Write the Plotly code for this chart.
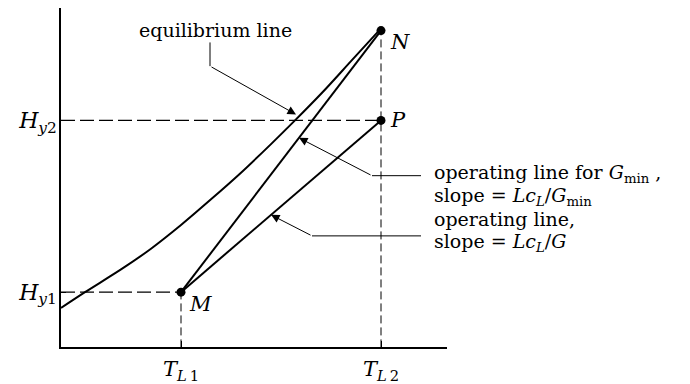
import numpy as np
import plotly.graph_objects as go

# Key temperatures and enthalpies (arbitrary units)
T_L1, T_L2 = 0.6, 1.6
H_y1, H_y2, H_N = 0.56, 2.30, 3.21

# Equilibrium curve H*(T)
eq_T = [0.00, 0.12, 0.30, 0.45, 0.60, 0.75, 0.90, 1.05, 1.17, 1.31, 1.45, 1.59]
eq_H = [0.40, 0.56, 0.79, 1.00, 1.24, 1.50, 1.77, 2.06, 2.30, 2.59, 2.90, 3.21]

# Operating lines: M -> N (minimum gas rate) and M -> P (actual)
gmin_T, gmin_H = [T_L1, T_L2], [H_y1, H_N]
op_T, op_H = [T_L1, T_L2], [H_y1, H_y2]

# Axis tick labels
x_ticktext = ["<i>T</i><sub><i>L</i>\u20091</sub>", "<i>T</i><sub><i>L</i>\u20092</sub>"]
y_ticktext = ["<i>H</i><sub><i>y</i>1</sub>", "<i>H</i><sub><i>y</i>2</sub>"]

FONT = "DejaVu Serif"
W, H = 690, 384
x_px0, x_px1 = 61, 447     # plot area in pixels
y_px0, y_px1 = 352, 8
xr = [0, 1.93]
yr = [0, 3.44]

fig = go.Figure()

dash_h = dict(color="black", width=1.3, dash="14px,5px")
dash_v = dict(color="black", width=1.0, dash="8px,4px")

# guide lines
fig.add_trace(go.Scatter(x=[0, T_L2], y=[H_y2, H_y2], mode="lines", line=dash_h))
fig.add_trace(go.Scatter(x=[0, T_L1], y=[H_y1, H_y1], mode="lines", line=dash_h))
fig.add_trace(go.Scatter(x=[T_L1, T_L1], y=[0, H_y1], mode="lines", line=dash_v))
fig.add_trace(go.Scatter(x=[T_L2, T_L2], y=[0, H_N], mode="lines", line=dash_v))

# curves
fig.add_trace(go.Scatter(x=eq_T, y=eq_H, mode="lines",
                         line=dict(color="black", width=2, shape="spline", smoothing=0.8)))
fig.add_trace(go.Scatter(x=gmin_T, y=gmin_H, mode="lines", line=dict(color="black", width=2)))
fig.add_trace(go.Scatter(x=op_T, y=op_H, mode="lines", line=dict(color="black", width=2)))

# end points M, N, P
fig.add_trace(go.Scatter(x=[T_L1, T_L2, T_L2], y=[H_y1, H_N, H_y2], mode="markers",
                         marker=dict(color="black", size=9)))

lead = dict(color="black", width=1)
annots = []


def arrow(tip_x, tip_y, from_x, from_y):
    annots.append(dict(x=tip_x, y=tip_y, ax=from_x, ay=from_y, xref="x", yref="y",
                       axref="x", ayref="y", text="", showarrow=True,
                       arrowhead=2, arrowsize=1.7, arrowwidth=1, arrowcolor="black"))


# leader: equilibrium line
eq_tip_T = 1.175
eq_tip_H = float(np.interp(eq_tip_T, eq_T, eq_H)) + 0.05
fig.add_trace(go.Scatter(x=[0.745, 0.745], y=[3.09, 2.85], mode="lines", line=lead,
                         cliponaxis=False))
arrow(eq_tip_T, eq_tip_H, 0.745, 2.85)

# leader: operating line for Gmin
g_tip_T = 1.19
g_tip_H = float(np.interp(g_tip_T, gmin_T, gmin_H))
fig.add_trace(go.Scatter(x=[1.555, 1.80], y=[1.74, 1.74], mode="lines", line=lead,
                         cliponaxis=False))
arrow(g_tip_T, g_tip_H, 1.555, 1.74)

# leader: operating line
o_tip_T = 1.05
o_tip_H = float(np.interp(o_tip_T, op_T, op_H))
fig.add_trace(go.Scatter(x=[1.255, 1.80], y=[1.13, 1.13], mode="lines", line=lead,
                         cliponaxis=False))
arrow(o_tip_T, o_tip_H, 1.255, 1.13)

txt = dict(family=FONT, size=19, color="black")
lab = dict(family=FONT, size=21, color="black")
ylab = dict(family=FONT, size=22, color="black")


def note(x, y, text, font=txt, **kw):
    d = dict(x=x, y=y, xref="x", yref="y", text=text, showarrow=False, font=font,
             xanchor="left", yanchor="middle")
    d.update(kw)
    annots.append(d)


note(0.38, 3.22, "equilibrium line")
note(1.855, 1.76, "operating line for <i>G</i><sub>min</sub> ,")
note(1.855, 1.53, "slope = <i>Lc</i><sub><i>L</i></sub>/<i>G</i><sub>min</sub>")
note(1.855, 1.30, "operating line,")
note(1.855, 1.06, "slope = <i>Lc</i><sub><i>L</i></sub>/<i>G</i>")

note(T_L1, H_y1, "<i>M</i>", font=lab, xshift=6, yshift=-12)
note(T_L2, H_N, "<i>N</i>", font=lab, xshift=7, yshift=-11)
note(T_L2, H_y2, "<i>P</i>", font=lab, xshift=7, yshift=0)

fig.update_layout(
    width=W, height=H,
    margin=dict(l=0, r=0, t=0, b=0),
    paper_bgcolor="white", plot_bgcolor="white",
    showlegend=False,
    annotations=annots,
    xaxis=dict(domain=[x_px0 / W, x_px1 / W], range=xr, showgrid=False, zeroline=False,
               showline=True, linecolor="black", linewidth=1.5,
               tickvals=[T_L1, T_L2], ticktext=x_ticktext,
               ticks="inside", ticklen=7, tickcolor="black", tickwidth=1,
               tickfont=lab, ticklabelstandoff=2),
    yaxis=dict(domain=[(H - y_px0) / H, (H - y_px1) / H], range=yr, showgrid=False,
               zeroline=False, showline=True, linecolor="black", linewidth=1.5,
               tickvals=[H_y1, H_y2], ticktext=y_ticktext,
               ticks="inside", ticklen=5, tickcolor="black", tickwidth=1,
               tickfont=ylab, ticklabelstandoff=-2),
)

fig.write_html("out.html")
